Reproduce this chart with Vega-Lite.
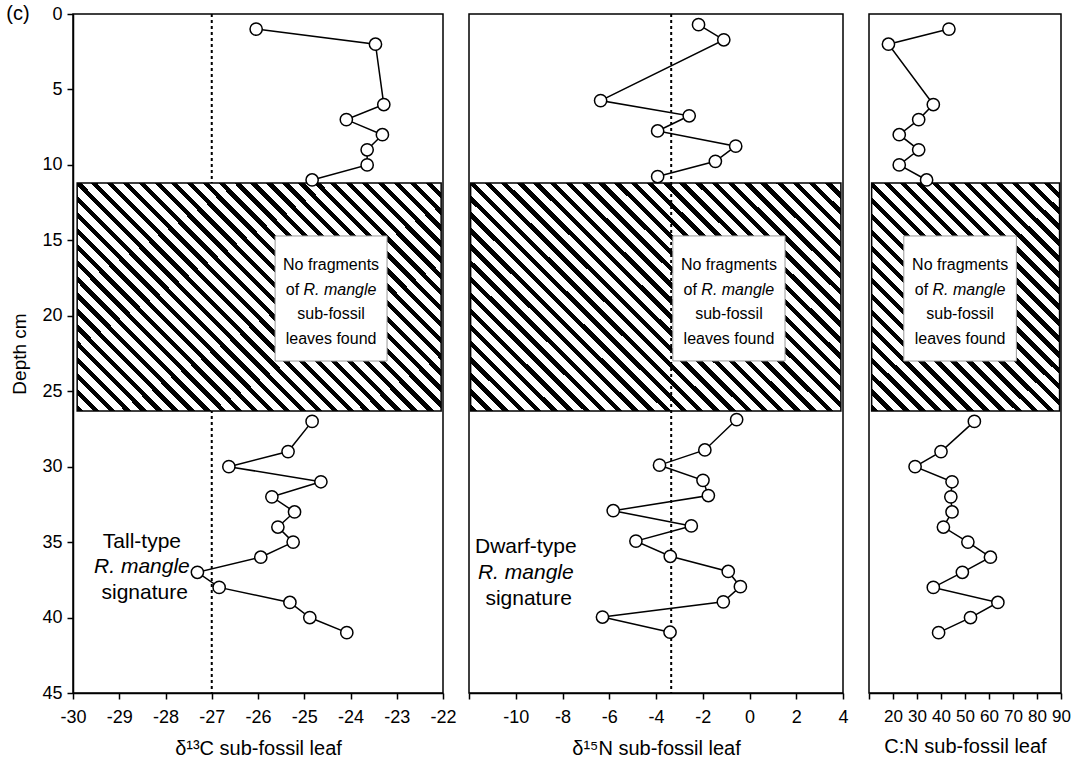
{
  "$schema": "https://vega.github.io/schema/vega-lite/v6.json",
  "padding": {"left": 5, "top": 3, "right": 5, "bottom": 5},
  "background": "white",
  "spacing": 26,
  "bounds": "flush",
  "config": {
    "font": "Liberation Sans",
    "view": {"stroke": "black", "strokeWidth": 1.5},
    "text": {"font": "Liberation Sans", "color": "black", "baseline": "middle", "align": "center"},
    "axis": {"grid": false, "domainColor": "black", "domainWidth": 1.5, "tickColor": "black", "tickWidth": 1.5, "tickSize": 6, "labelFont": "Liberation Sans", "labelFontSize": 18, "labelColor": "black", "labelPadding": 5, "labelOverlap": false, "titleFont": "Liberation Sans", "titleFontSize": 20, "titleFontWeight": "normal", "titleColor": "black", "titlePadding": 10},
    "axisX": {"labelPadding": 9, "labelFlush": false}
  },
  "datasets": {
    "c13": [
      {"depth": 1, "v": -26.04, "seg": "a"}, {"depth": 2, "v": -23.46, "seg": "a"}, {"depth": 6, "v": -23.28, "seg": "a"}, {"depth": 7, "v": -24.09, "seg": "a"}, {"depth": 8, "v": -23.31, "seg": "a"}, {"depth": 9, "v": -23.64, "seg": "a"}, {"depth": 10, "v": -23.64, "seg": "a"}, {"depth": 11, "v": -24.83, "seg": "a"},
      {"depth": 27, "v": -24.83, "seg": "b"}, {"depth": 29, "v": -25.35, "seg": "b"}, {"depth": 30, "v": -26.63, "seg": "b"}, {"depth": 31, "v": -24.64, "seg": "b"}, {"depth": 32, "v": -25.70, "seg": "b"}, {"depth": 33, "v": -25.21, "seg": "b"}, {"depth": 34, "v": -25.57, "seg": "b"}, {"depth": 35, "v": -25.24, "seg": "b"}, {"depth": 36, "v": -25.94, "seg": "b"}, {"depth": 37, "v": -27.31, "seg": "b"}, {"depth": 38, "v": -26.84, "seg": "b"}, {"depth": 39, "v": -25.31, "seg": "b"}, {"depth": 40, "v": -24.88, "seg": "b"}, {"depth": 41, "v": -24.08, "seg": "b"}
    ],
    "n15": [
      {"depth": 1, "v": -2.18, "seg": "a"}, {"depth": 2, "v": -1.10, "seg": "a"}, {"depth": 6, "v": -6.37, "seg": "a"}, {"depth": 7, "v": -2.58, "seg": "a"}, {"depth": 8, "v": -3.93, "seg": "a"}, {"depth": 9, "v": -0.59, "seg": "a"}, {"depth": 10, "v": -1.46, "seg": "a"}, {"depth": 11, "v": -3.93, "seg": "a"},
      {"depth": 27, "v": -0.55, "seg": "b"}, {"depth": 29, "v": -1.91, "seg": "b"}, {"depth": 30, "v": -3.85, "seg": "b"}, {"depth": 31, "v": -1.99, "seg": "b"}, {"depth": 32, "v": -1.76, "seg": "b"}, {"depth": 33, "v": -5.83, "seg": "b"}, {"depth": 34, "v": -2.49, "seg": "b"}, {"depth": 35, "v": -4.86, "seg": "b"}, {"depth": 36, "v": -3.39, "seg": "b"}, {"depth": 37, "v": -0.91, "seg": "b"}, {"depth": 38, "v": -0.39, "seg": "b"}, {"depth": 39, "v": -1.12, "seg": "b"}, {"depth": 40, "v": -6.29, "seg": "b"}, {"depth": 41, "v": -3.40, "seg": "b"}
    ],
    "cn": [
      {"depth": 1, "v": 43.3, "seg": "a"}, {"depth": 2, "v": 18.1, "seg": "a"}, {"depth": 6, "v": 36.8, "seg": "a"}, {"depth": 7, "v": 30.7, "seg": "a"}, {"depth": 8, "v": 22.6, "seg": "a"}, {"depth": 9, "v": 30.7, "seg": "a"}, {"depth": 10, "v": 22.6, "seg": "a"}, {"depth": 11, "v": 34.0, "seg": "a"},
      {"depth": 27, "v": 53.9, "seg": "b"}, {"depth": 29, "v": 40.0, "seg": "b"}, {"depth": 30, "v": 29.2, "seg": "b"}, {"depth": 31, "v": 44.6, "seg": "b"}, {"depth": 32, "v": 44.1, "seg": "b"}, {"depth": 33, "v": 44.6, "seg": "b"}, {"depth": 34, "v": 41.0, "seg": "b"}, {"depth": 35, "v": 51.2, "seg": "b"}, {"depth": 36, "v": 60.6, "seg": "b"}, {"depth": 37, "v": 48.9, "seg": "b"}, {"depth": 38, "v": 36.8, "seg": "b"}, {"depth": 39, "v": 63.7, "seg": "b"}, {"depth": 40, "v": 52.3, "seg": "b"}, {"depth": 41, "v": 39.0, "seg": "b"}
    ]
  },
  "hconcat": [
    {
      "width": 370,
      "height": 679,
      "data": {"values": [{}]},
      "layer": [
        {
          "mark": {"type": "rule", "stroke": "black", "strokeWidth": 2, "strokeDash": [3, 3]},
          "encoding": {
            "x": {"datum": -27, "type": "quantitative", "scale": {"domain": [-30, -22], "nice": false}, "axis": {"values": [-30, -29, -28, -27, -26, -25, -24, -23, -22], "tickCount": 20, "labelExpr": "'' + datum.value", "title": "δ¹³C sub-fossil leaf", "titlePadding": 12}},
            "y": {"datum": 0, "type": "quantitative", "scale": {"domain": [0, 45], "nice": false, "reverse": true}, "axis": {"values": [0, 5, 10, 15, 20, 25, 30, 35, 40, 45], "tickCount": 20, "title": "Depth cm", "titleFontSize": 19, "titlePadding": 12}},
            "y2": {"datum": 45}
          }
        },
        {
          "mark": {"type": "rect", "stroke": "black", "strokeWidth": 1.5, "fill": {"gradient": "linear", "x1": 0, "y1": 1, "x2": 1.1703, "y2": 0.2749, "stops": [
            {"offset": 0, "color": "#000"}, {"offset": 0.01081, "color": "#000"}, {"offset": 0.01081, "color": "#fff"}, {"offset": 0.02703, "color": "#fff"},
            {"offset": 0.02703, "color": "#000"}, {"offset": 0.03784, "color": "#000"}, {"offset": 0.03784, "color": "#fff"}, {"offset": 0.05405, "color": "#fff"},
            {"offset": 0.05405, "color": "#000"}, {"offset": 0.06486, "color": "#000"}, {"offset": 0.06486, "color": "#fff"}, {"offset": 0.08108, "color": "#fff"},
            {"offset": 0.08108, "color": "#000"}, {"offset": 0.09189, "color": "#000"}, {"offset": 0.09189, "color": "#fff"}, {"offset": 0.10811, "color": "#fff"},
            {"offset": 0.10811, "color": "#000"}, {"offset": 0.11892, "color": "#000"}, {"offset": 0.11892, "color": "#fff"}, {"offset": 0.13514, "color": "#fff"},
            {"offset": 0.13514, "color": "#000"}, {"offset": 0.14595, "color": "#000"}, {"offset": 0.14595, "color": "#fff"}, {"offset": 0.16216, "color": "#fff"},
            {"offset": 0.16216, "color": "#000"}, {"offset": 0.17297, "color": "#000"}, {"offset": 0.17297, "color": "#fff"}, {"offset": 0.18919, "color": "#fff"},
            {"offset": 0.18919, "color": "#000"}, {"offset": 0.2, "color": "#000"}, {"offset": 0.2, "color": "#fff"}, {"offset": 0.21622, "color": "#fff"},
            {"offset": 0.21622, "color": "#000"}, {"offset": 0.22703, "color": "#000"}, {"offset": 0.22703, "color": "#fff"}, {"offset": 0.24324, "color": "#fff"},
            {"offset": 0.24324, "color": "#000"}, {"offset": 0.25405, "color": "#000"}, {"offset": 0.25405, "color": "#fff"}, {"offset": 0.27027, "color": "#fff"},
            {"offset": 0.27027, "color": "#000"}, {"offset": 0.28108, "color": "#000"}, {"offset": 0.28108, "color": "#fff"}, {"offset": 0.2973, "color": "#fff"},
            {"offset": 0.2973, "color": "#000"}, {"offset": 0.30811, "color": "#000"}, {"offset": 0.30811, "color": "#fff"}, {"offset": 0.32432, "color": "#fff"},
            {"offset": 0.32432, "color": "#000"}, {"offset": 0.33514, "color": "#000"}, {"offset": 0.33514, "color": "#fff"}, {"offset": 0.35135, "color": "#fff"},
            {"offset": 0.35135, "color": "#000"}, {"offset": 0.36216, "color": "#000"}, {"offset": 0.36216, "color": "#fff"}, {"offset": 0.37838, "color": "#fff"},
            {"offset": 0.37838, "color": "#000"}, {"offset": 0.38919, "color": "#000"}, {"offset": 0.38919, "color": "#fff"}, {"offset": 0.40541, "color": "#fff"},
            {"offset": 0.40541, "color": "#000"}, {"offset": 0.41622, "color": "#000"}, {"offset": 0.41622, "color": "#fff"}, {"offset": 0.43243, "color": "#fff"},
            {"offset": 0.43243, "color": "#000"}, {"offset": 0.44324, "color": "#000"}, {"offset": 0.44324, "color": "#fff"}, {"offset": 0.45946, "color": "#fff"},
            {"offset": 0.45946, "color": "#000"}, {"offset": 0.47027, "color": "#000"}, {"offset": 0.47027, "color": "#fff"}, {"offset": 0.48649, "color": "#fff"},
            {"offset": 0.48649, "color": "#000"}, {"offset": 0.4973, "color": "#000"}, {"offset": 0.4973, "color": "#fff"}, {"offset": 0.51351, "color": "#fff"},
            {"offset": 0.51351, "color": "#000"}, {"offset": 0.52432, "color": "#000"}, {"offset": 0.52432, "color": "#fff"}, {"offset": 0.54054, "color": "#fff"},
            {"offset": 0.54054, "color": "#000"}, {"offset": 0.55135, "color": "#000"}, {"offset": 0.55135, "color": "#fff"}, {"offset": 0.56757, "color": "#fff"},
            {"offset": 0.56757, "color": "#000"}, {"offset": 0.57838, "color": "#000"}, {"offset": 0.57838, "color": "#fff"}, {"offset": 0.59459, "color": "#fff"},
            {"offset": 0.59459, "color": "#000"}, {"offset": 0.60541, "color": "#000"}, {"offset": 0.60541, "color": "#fff"}, {"offset": 0.62162, "color": "#fff"},
            {"offset": 0.62162, "color": "#000"}, {"offset": 0.63243, "color": "#000"}, {"offset": 0.63243, "color": "#fff"}, {"offset": 0.64865, "color": "#fff"},
            {"offset": 0.64865, "color": "#000"}, {"offset": 0.65946, "color": "#000"}, {"offset": 0.65946, "color": "#fff"}, {"offset": 0.67568, "color": "#fff"},
            {"offset": 0.67568, "color": "#000"}, {"offset": 0.68649, "color": "#000"}, {"offset": 0.68649, "color": "#fff"}, {"offset": 0.7027, "color": "#fff"},
            {"offset": 0.7027, "color": "#000"}, {"offset": 0.71351, "color": "#000"}, {"offset": 0.71351, "color": "#fff"}, {"offset": 0.72973, "color": "#fff"},
            {"offset": 0.72973, "color": "#000"}, {"offset": 0.74054, "color": "#000"}, {"offset": 0.74054, "color": "#fff"}, {"offset": 0.75676, "color": "#fff"},
            {"offset": 0.75676, "color": "#000"}, {"offset": 0.76757, "color": "#000"}, {"offset": 0.76757, "color": "#fff"}, {"offset": 0.78378, "color": "#fff"},
            {"offset": 0.78378, "color": "#000"}, {"offset": 0.79459, "color": "#000"}, {"offset": 0.79459, "color": "#fff"}, {"offset": 0.81081, "color": "#fff"},
            {"offset": 0.81081, "color": "#000"}, {"offset": 0.82162, "color": "#000"}, {"offset": 0.82162, "color": "#fff"}, {"offset": 0.83784, "color": "#fff"},
            {"offset": 0.83784, "color": "#000"}, {"offset": 0.84865, "color": "#000"}, {"offset": 0.84865, "color": "#fff"}, {"offset": 0.86486, "color": "#fff"},
            {"offset": 0.86486, "color": "#000"}, {"offset": 0.87568, "color": "#000"}, {"offset": 0.87568, "color": "#fff"}, {"offset": 0.89189, "color": "#fff"},
            {"offset": 0.89189, "color": "#000"}, {"offset": 0.9027, "color": "#000"}, {"offset": 0.9027, "color": "#fff"}, {"offset": 0.91892, "color": "#fff"},
            {"offset": 0.91892, "color": "#000"}, {"offset": 0.92973, "color": "#000"}, {"offset": 0.92973, "color": "#fff"}, {"offset": 0.94595, "color": "#fff"},
            {"offset": 0.94595, "color": "#000"}, {"offset": 0.95676, "color": "#000"}, {"offset": 0.95676, "color": "#fff"}, {"offset": 0.97297, "color": "#fff"},
            {"offset": 0.97297, "color": "#000"}, {"offset": 0.98378, "color": "#000"}, {"offset": 0.98378, "color": "#fff"}, {"offset": 1, "color": "#fff"}
          ]}},
          "encoding": {
            "x": {"datum": -29.91, "type": "quantitative"},
            "x2": {"datum": -22.04},
            "y": {"datum": 11.2, "type": "quantitative"},
            "y2": {"datum": 26.31}
          }
        },
        {
          "mark": {"type": "rect", "fill": "white", "stroke": "#999999", "strokeWidth": 1},
          "encoding": {
            "x": {"datum": -25.63, "type": "quantitative"},
            "x2": {"datum": -23.21},
            "y": {"datum": 14.71, "type": "quantitative"},
            "y2": {"datum": 23.0}
          }
        },
        {"mark": {"type": "text", "text": "No fragments", "fontSize": 16}, "encoding": {"x": {"datum": -24.42, "type": "quantitative"}, "y": {"datum": 16.63, "type": "quantitative"}}},
        {"mark": {"type": "text", "text": "of", "fontSize": 16, "align": "right", "dx": -32}, "encoding": {"x": {"datum": -24.42, "type": "quantitative"}, "y": {"datum": 18.29, "type": "quantitative"}}},
        {"mark": {"type": "text", "text": "R. mangle", "fontSize": 16, "fontStyle": "italic", "align": "left", "dx": -27.6}, "encoding": {"x": {"datum": -24.42, "type": "quantitative"}, "y": {"datum": 18.29, "type": "quantitative"}}},
        {"mark": {"type": "text", "text": "sub-fossil", "fontSize": 16}, "encoding": {"x": {"datum": -24.42, "type": "quantitative"}, "y": {"datum": 19.88, "type": "quantitative"}}},
        {"mark": {"type": "text", "text": "leaves found", "fontSize": 16}, "encoding": {"x": {"datum": -24.42, "type": "quantitative"}, "y": {"datum": 21.54, "type": "quantitative"}}},
        {"mark": {"type": "text", "text": "Tall-type", "fontSize": 21}, "encoding": {"x": {"datum": -28.51, "type": "quantitative"}, "y": {"datum": 34.97, "type": "quantitative"}}},
        {"mark": {"type": "text", "text": "R. mangle", "fontSize": 21, "fontStyle": "italic"}, "encoding": {"x": {"datum": -28.51, "type": "quantitative"}, "y": {"datum": 36.63, "type": "quantitative"}}},
        {"mark": {"type": "text", "text": "signature", "fontSize": 21}, "encoding": {"x": {"datum": -28.45, "type": "quantitative"}, "y": {"datum": 38.35, "type": "quantitative"}}},
        {"mark": {"type": "text", "text": "(c)", "fontSize": 20, "dx": -55}, "encoding": {"x": {"datum": -30, "type": "quantitative"}, "y": {"datum": 0, "type": "quantitative"}}},
        {
          "data": {"name": "c13"},
          "mark": {"type": "line", "stroke": "black", "strokeWidth": 1.5},
          "encoding": {
            "x": {"field": "v", "type": "quantitative"},
            "y": {"field": "depth", "type": "quantitative"},
            "detail": {"field": "seg"},
            "order": {"field": "depth", "type": "quantitative"}
          }
        },
        {
          "data": {"name": "c13"},
          "mark": {"type": "point", "shape": "circle", "filled": true, "fill": "white", "stroke": "black", "strokeWidth": 1.5, "size": 150, "opacity": 1},
          "encoding": {
            "x": {"field": "v", "type": "quantitative"},
            "y": {"field": "depth", "type": "quantitative"}
          }
        }
      ]
    },
    {
      "width": 374,
      "height": 679,
      "data": {"values": [{}]},
      "layer": [
        {
          "mark": {"type": "rect", "stroke": "black", "strokeWidth": 1.5, "fill": {"gradient": "linear", "x1": 0, "y1": 1, "x2": 1.1703, "y2": 0.2749, "stops": [
            {"offset": 0, "color": "#000"}, {"offset": 0.01081, "color": "#000"}, {"offset": 0.01081, "color": "#fff"}, {"offset": 0.02703, "color": "#fff"},
            {"offset": 0.02703, "color": "#000"}, {"offset": 0.03784, "color": "#000"}, {"offset": 0.03784, "color": "#fff"}, {"offset": 0.05405, "color": "#fff"},
            {"offset": 0.05405, "color": "#000"}, {"offset": 0.06486, "color": "#000"}, {"offset": 0.06486, "color": "#fff"}, {"offset": 0.08108, "color": "#fff"},
            {"offset": 0.08108, "color": "#000"}, {"offset": 0.09189, "color": "#000"}, {"offset": 0.09189, "color": "#fff"}, {"offset": 0.10811, "color": "#fff"},
            {"offset": 0.10811, "color": "#000"}, {"offset": 0.11892, "color": "#000"}, {"offset": 0.11892, "color": "#fff"}, {"offset": 0.13514, "color": "#fff"},
            {"offset": 0.13514, "color": "#000"}, {"offset": 0.14595, "color": "#000"}, {"offset": 0.14595, "color": "#fff"}, {"offset": 0.16216, "color": "#fff"},
            {"offset": 0.16216, "color": "#000"}, {"offset": 0.17297, "color": "#000"}, {"offset": 0.17297, "color": "#fff"}, {"offset": 0.18919, "color": "#fff"},
            {"offset": 0.18919, "color": "#000"}, {"offset": 0.2, "color": "#000"}, {"offset": 0.2, "color": "#fff"}, {"offset": 0.21622, "color": "#fff"},
            {"offset": 0.21622, "color": "#000"}, {"offset": 0.22703, "color": "#000"}, {"offset": 0.22703, "color": "#fff"}, {"offset": 0.24324, "color": "#fff"},
            {"offset": 0.24324, "color": "#000"}, {"offset": 0.25405, "color": "#000"}, {"offset": 0.25405, "color": "#fff"}, {"offset": 0.27027, "color": "#fff"},
            {"offset": 0.27027, "color": "#000"}, {"offset": 0.28108, "color": "#000"}, {"offset": 0.28108, "color": "#fff"}, {"offset": 0.2973, "color": "#fff"},
            {"offset": 0.2973, "color": "#000"}, {"offset": 0.30811, "color": "#000"}, {"offset": 0.30811, "color": "#fff"}, {"offset": 0.32432, "color": "#fff"},
            {"offset": 0.32432, "color": "#000"}, {"offset": 0.33514, "color": "#000"}, {"offset": 0.33514, "color": "#fff"}, {"offset": 0.35135, "color": "#fff"},
            {"offset": 0.35135, "color": "#000"}, {"offset": 0.36216, "color": "#000"}, {"offset": 0.36216, "color": "#fff"}, {"offset": 0.37838, "color": "#fff"},
            {"offset": 0.37838, "color": "#000"}, {"offset": 0.38919, "color": "#000"}, {"offset": 0.38919, "color": "#fff"}, {"offset": 0.40541, "color": "#fff"},
            {"offset": 0.40541, "color": "#000"}, {"offset": 0.41622, "color": "#000"}, {"offset": 0.41622, "color": "#fff"}, {"offset": 0.43243, "color": "#fff"},
            {"offset": 0.43243, "color": "#000"}, {"offset": 0.44324, "color": "#000"}, {"offset": 0.44324, "color": "#fff"}, {"offset": 0.45946, "color": "#fff"},
            {"offset": 0.45946, "color": "#000"}, {"offset": 0.47027, "color": "#000"}, {"offset": 0.47027, "color": "#fff"}, {"offset": 0.48649, "color": "#fff"},
            {"offset": 0.48649, "color": "#000"}, {"offset": 0.4973, "color": "#000"}, {"offset": 0.4973, "color": "#fff"}, {"offset": 0.51351, "color": "#fff"},
            {"offset": 0.51351, "color": "#000"}, {"offset": 0.52432, "color": "#000"}, {"offset": 0.52432, "color": "#fff"}, {"offset": 0.54054, "color": "#fff"},
            {"offset": 0.54054, "color": "#000"}, {"offset": 0.55135, "color": "#000"}, {"offset": 0.55135, "color": "#fff"}, {"offset": 0.56757, "color": "#fff"},
            {"offset": 0.56757, "color": "#000"}, {"offset": 0.57838, "color": "#000"}, {"offset": 0.57838, "color": "#fff"}, {"offset": 0.59459, "color": "#fff"},
            {"offset": 0.59459, "color": "#000"}, {"offset": 0.60541, "color": "#000"}, {"offset": 0.60541, "color": "#fff"}, {"offset": 0.62162, "color": "#fff"},
            {"offset": 0.62162, "color": "#000"}, {"offset": 0.63243, "color": "#000"}, {"offset": 0.63243, "color": "#fff"}, {"offset": 0.64865, "color": "#fff"},
            {"offset": 0.64865, "color": "#000"}, {"offset": 0.65946, "color": "#000"}, {"offset": 0.65946, "color": "#fff"}, {"offset": 0.67568, "color": "#fff"},
            {"offset": 0.67568, "color": "#000"}, {"offset": 0.68649, "color": "#000"}, {"offset": 0.68649, "color": "#fff"}, {"offset": 0.7027, "color": "#fff"},
            {"offset": 0.7027, "color": "#000"}, {"offset": 0.71351, "color": "#000"}, {"offset": 0.71351, "color": "#fff"}, {"offset": 0.72973, "color": "#fff"},
            {"offset": 0.72973, "color": "#000"}, {"offset": 0.74054, "color": "#000"}, {"offset": 0.74054, "color": "#fff"}, {"offset": 0.75676, "color": "#fff"},
            {"offset": 0.75676, "color": "#000"}, {"offset": 0.76757, "color": "#000"}, {"offset": 0.76757, "color": "#fff"}, {"offset": 0.78378, "color": "#fff"},
            {"offset": 0.78378, "color": "#000"}, {"offset": 0.79459, "color": "#000"}, {"offset": 0.79459, "color": "#fff"}, {"offset": 0.81081, "color": "#fff"},
            {"offset": 0.81081, "color": "#000"}, {"offset": 0.82162, "color": "#000"}, {"offset": 0.82162, "color": "#fff"}, {"offset": 0.83784, "color": "#fff"},
            {"offset": 0.83784, "color": "#000"}, {"offset": 0.84865, "color": "#000"}, {"offset": 0.84865, "color": "#fff"}, {"offset": 0.86486, "color": "#fff"},
            {"offset": 0.86486, "color": "#000"}, {"offset": 0.87568, "color": "#000"}, {"offset": 0.87568, "color": "#fff"}, {"offset": 0.89189, "color": "#fff"},
            {"offset": 0.89189, "color": "#000"}, {"offset": 0.9027, "color": "#000"}, {"offset": 0.9027, "color": "#fff"}, {"offset": 0.91892, "color": "#fff"},
            {"offset": 0.91892, "color": "#000"}, {"offset": 0.92973, "color": "#000"}, {"offset": 0.92973, "color": "#fff"}, {"offset": 0.94595, "color": "#fff"},
            {"offset": 0.94595, "color": "#000"}, {"offset": 0.95676, "color": "#000"}, {"offset": 0.95676, "color": "#fff"}, {"offset": 0.97297, "color": "#fff"},
            {"offset": 0.97297, "color": "#000"}, {"offset": 0.98378, "color": "#000"}, {"offset": 0.98378, "color": "#fff"}, {"offset": 1, "color": "#fff"}
          ]}},
          "encoding": {
            "x": {"datum": -11.93, "type": "quantitative", "scale": {"domain": [-12, 4], "nice": false}, "axis": {"values": [-12, -10, -8, -6, -4, -2, 0, 2, 4], "tickCount": 20, "labelExpr": "datum.value == -12 ? '' : '' + datum.value", "title": "δ¹⁵N sub-fossil leaf", "titlePadding": 12}},
            "x2": {"datum": 3.91},
            "y": {"datum": 11.43, "type": "quantitative", "scale": {"domain": [0.3, 45], "nice": false, "reverse": true}, "axis": null},
            "y2": {"datum": 26.44}
          }
        },
        {
          "mark": {"type": "rule", "stroke": "black", "strokeWidth": 2, "strokeDash": [3, 3]},
          "encoding": {
            "x": {"datum": -3.35, "type": "quantitative"},
            "y": {"datum": 0.3, "type": "quantitative"},
            "y2": {"datum": 45}
          }
        },
        {
          "mark": {"type": "rect", "fill": "white", "stroke": "#999999", "strokeWidth": 1},
          "encoding": {
            "x": {"datum": -3.28, "type": "quantitative"},
            "x2": {"datum": 1.52},
            "y": {"datum": 14.91, "type": "quantitative"},
            "y2": {"datum": 23.14}
          }
        },
        {"mark": {"type": "text", "text": "No fragments", "fontSize": 16}, "encoding": {"x": {"datum": -0.88, "type": "quantitative"}, "y": {"datum": 16.82, "type": "quantitative"}}},
        {"mark": {"type": "text", "text": "of", "fontSize": 16, "align": "right", "dx": -32}, "encoding": {"x": {"datum": -0.88, "type": "quantitative"}, "y": {"datum": 18.47, "type": "quantitative"}}},
        {"mark": {"type": "text", "text": "R. mangle", "fontSize": 16, "fontStyle": "italic", "align": "left", "dx": -27.6}, "encoding": {"x": {"datum": -0.88, "type": "quantitative"}, "y": {"datum": 18.47, "type": "quantitative"}}},
        {"mark": {"type": "text", "text": "sub-fossil", "fontSize": 16}, "encoding": {"x": {"datum": -0.88, "type": "quantitative"}, "y": {"datum": 20.05, "type": "quantitative"}}},
        {"mark": {"type": "text", "text": "leaves found", "fontSize": 16}, "encoding": {"x": {"datum": -0.88, "type": "quantitative"}, "y": {"datum": 21.7, "type": "quantitative"}}},
        {"mark": {"type": "text", "text": "Dwarf-type", "fontSize": 21}, "encoding": {"x": {"datum": -9.57, "type": "quantitative"}, "y": {"datum": 35.37, "type": "quantitative"}}},
        {"mark": {"type": "text", "text": "R. mangle", "fontSize": 21, "fontStyle": "italic"}, "encoding": {"x": {"datum": -9.57, "type": "quantitative"}, "y": {"datum": 37.11, "type": "quantitative"}}},
        {"mark": {"type": "text", "text": "signature", "fontSize": 21}, "encoding": {"x": {"datum": -9.45, "type": "quantitative"}, "y": {"datum": 38.82, "type": "quantitative"}}},
        {
          "data": {"name": "n15"},
          "mark": {"type": "line", "stroke": "black", "strokeWidth": 1.5},
          "encoding": {
            "x": {"field": "v", "type": "quantitative"},
            "y": {"field": "depth", "type": "quantitative"},
            "detail": {"field": "seg"},
            "order": {"field": "depth", "type": "quantitative"}
          }
        },
        {
          "data": {"name": "n15"},
          "mark": {"type": "point", "shape": "circle", "filled": true, "fill": "white", "stroke": "black", "strokeWidth": 1.5, "size": 150, "opacity": 1},
          "encoding": {
            "x": {"field": "v", "type": "quantitative"},
            "y": {"field": "depth", "type": "quantitative"}
          }
        }
      ]
    },
    {
      "width": 192,
      "height": 679,
      "data": {"values": [{}]},
      "layer": [
        {
          "mark": {"type": "rect", "stroke": "black", "strokeWidth": 1.5, "fill": {"gradient": "linear", "x1": 0, "y1": 1, "x2": 0.8925, "y2": -0.0882, "stops": [
            {"offset": 0, "color": "#000"}, {"offset": 0.01538, "color": "#000"}, {"offset": 0.01538, "color": "#fff"}, {"offset": 0.03846, "color": "#fff"},
            {"offset": 0.03846, "color": "#000"}, {"offset": 0.05385, "color": "#000"}, {"offset": 0.05385, "color": "#fff"}, {"offset": 0.07692, "color": "#fff"},
            {"offset": 0.07692, "color": "#000"}, {"offset": 0.09231, "color": "#000"}, {"offset": 0.09231, "color": "#fff"}, {"offset": 0.11538, "color": "#fff"},
            {"offset": 0.11538, "color": "#000"}, {"offset": 0.13077, "color": "#000"}, {"offset": 0.13077, "color": "#fff"}, {"offset": 0.15385, "color": "#fff"},
            {"offset": 0.15385, "color": "#000"}, {"offset": 0.16923, "color": "#000"}, {"offset": 0.16923, "color": "#fff"}, {"offset": 0.19231, "color": "#fff"},
            {"offset": 0.19231, "color": "#000"}, {"offset": 0.20769, "color": "#000"}, {"offset": 0.20769, "color": "#fff"}, {"offset": 0.23077, "color": "#fff"},
            {"offset": 0.23077, "color": "#000"}, {"offset": 0.24615, "color": "#000"}, {"offset": 0.24615, "color": "#fff"}, {"offset": 0.26923, "color": "#fff"},
            {"offset": 0.26923, "color": "#000"}, {"offset": 0.28462, "color": "#000"}, {"offset": 0.28462, "color": "#fff"}, {"offset": 0.30769, "color": "#fff"},
            {"offset": 0.30769, "color": "#000"}, {"offset": 0.32308, "color": "#000"}, {"offset": 0.32308, "color": "#fff"}, {"offset": 0.34615, "color": "#fff"},
            {"offset": 0.34615, "color": "#000"}, {"offset": 0.36154, "color": "#000"}, {"offset": 0.36154, "color": "#fff"}, {"offset": 0.38462, "color": "#fff"},
            {"offset": 0.38462, "color": "#000"}, {"offset": 0.4, "color": "#000"}, {"offset": 0.4, "color": "#fff"}, {"offset": 0.42308, "color": "#fff"},
            {"offset": 0.42308, "color": "#000"}, {"offset": 0.43846, "color": "#000"}, {"offset": 0.43846, "color": "#fff"}, {"offset": 0.46154, "color": "#fff"},
            {"offset": 0.46154, "color": "#000"}, {"offset": 0.47692, "color": "#000"}, {"offset": 0.47692, "color": "#fff"}, {"offset": 0.5, "color": "#fff"},
            {"offset": 0.5, "color": "#000"}, {"offset": 0.51538, "color": "#000"}, {"offset": 0.51538, "color": "#fff"}, {"offset": 0.53846, "color": "#fff"},
            {"offset": 0.53846, "color": "#000"}, {"offset": 0.55385, "color": "#000"}, {"offset": 0.55385, "color": "#fff"}, {"offset": 0.57692, "color": "#fff"},
            {"offset": 0.57692, "color": "#000"}, {"offset": 0.59231, "color": "#000"}, {"offset": 0.59231, "color": "#fff"}, {"offset": 0.61538, "color": "#fff"},
            {"offset": 0.61538, "color": "#000"}, {"offset": 0.63077, "color": "#000"}, {"offset": 0.63077, "color": "#fff"}, {"offset": 0.65385, "color": "#fff"},
            {"offset": 0.65385, "color": "#000"}, {"offset": 0.66923, "color": "#000"}, {"offset": 0.66923, "color": "#fff"}, {"offset": 0.69231, "color": "#fff"},
            {"offset": 0.69231, "color": "#000"}, {"offset": 0.70769, "color": "#000"}, {"offset": 0.70769, "color": "#fff"}, {"offset": 0.73077, "color": "#fff"},
            {"offset": 0.73077, "color": "#000"}, {"offset": 0.74615, "color": "#000"}, {"offset": 0.74615, "color": "#fff"}, {"offset": 0.76923, "color": "#fff"},
            {"offset": 0.76923, "color": "#000"}, {"offset": 0.78462, "color": "#000"}, {"offset": 0.78462, "color": "#fff"}, {"offset": 0.80769, "color": "#fff"},
            {"offset": 0.80769, "color": "#000"}, {"offset": 0.82308, "color": "#000"}, {"offset": 0.82308, "color": "#fff"}, {"offset": 0.84615, "color": "#fff"},
            {"offset": 0.84615, "color": "#000"}, {"offset": 0.86154, "color": "#000"}, {"offset": 0.86154, "color": "#fff"}, {"offset": 0.88462, "color": "#fff"},
            {"offset": 0.88462, "color": "#000"}, {"offset": 0.9, "color": "#000"}, {"offset": 0.9, "color": "#fff"}, {"offset": 0.92308, "color": "#fff"},
            {"offset": 0.92308, "color": "#000"}, {"offset": 0.93846, "color": "#000"}, {"offset": 0.93846, "color": "#fff"}, {"offset": 0.96154, "color": "#fff"},
            {"offset": 0.96154, "color": "#000"}, {"offset": 0.97692, "color": "#000"}, {"offset": 0.97692, "color": "#fff"}, {"offset": 1, "color": "#fff"}
          ]}},
          "encoding": {
            "x": {"datum": 11.1, "type": "quantitative", "scale": {"domain": [10, 90], "nice": false}, "axis": {"values": [10, 20, 30, 40, 50, 60, 70, 80, 90], "tickCount": 20, "labelExpr": "datum.value == 10 ? '' : '' + datum.value", "labelFontSize": 17, "labelOverlap": false, "labelBound": false, "labelFlush": false, "title": "C:N sub-fossil leaf", "titlePadding": 12}},
            "x2": {"datum": 89.4},
            "y": {"datum": 11.2, "type": "quantitative", "scale": {"domain": [0, 45], "nice": false, "reverse": true}, "axis": null},
            "y2": {"datum": 26.31}
          }
        },
        {
          "mark": {"type": "rect", "fill": "white", "stroke": "#999999", "strokeWidth": 1},
          "encoding": {
            "x": {"datum": 24.5, "type": "quantitative"},
            "x2": {"datum": 71.4},
            "y": {"datum": 14.71, "type": "quantitative"},
            "y2": {"datum": 23.0}
          }
        },
        {"mark": {"type": "text", "text": "No fragments", "fontSize": 16}, "encoding": {"x": {"datum": 47.96, "type": "quantitative"}, "y": {"datum": 16.63, "type": "quantitative"}}},
        {"mark": {"type": "text", "text": "of", "fontSize": 16, "align": "right", "dx": -32}, "encoding": {"x": {"datum": 47.96, "type": "quantitative"}, "y": {"datum": 18.29, "type": "quantitative"}}},
        {"mark": {"type": "text", "text": "R. mangle", "fontSize": 16, "fontStyle": "italic", "align": "left", "dx": -27.6}, "encoding": {"x": {"datum": 47.96, "type": "quantitative"}, "y": {"datum": 18.29, "type": "quantitative"}}},
        {"mark": {"type": "text", "text": "sub-fossil", "fontSize": 16}, "encoding": {"x": {"datum": 47.96, "type": "quantitative"}, "y": {"datum": 19.88, "type": "quantitative"}}},
        {"mark": {"type": "text", "text": "leaves found", "fontSize": 16}, "encoding": {"x": {"datum": 47.96, "type": "quantitative"}, "y": {"datum": 21.54, "type": "quantitative"}}},
        {
          "data": {"name": "cn"},
          "mark": {"type": "line", "stroke": "black", "strokeWidth": 1.5},
          "encoding": {
            "x": {"field": "v", "type": "quantitative"},
            "y": {"field": "depth", "type": "quantitative"},
            "detail": {"field": "seg"},
            "order": {"field": "depth", "type": "quantitative"}
          }
        },
        {
          "data": {"name": "cn"},
          "mark": {"type": "point", "shape": "circle", "filled": true, "fill": "white", "stroke": "black", "strokeWidth": 1.5, "size": 150, "opacity": 1},
          "encoding": {
            "x": {"field": "v", "type": "quantitative"},
            "y": {"field": "depth", "type": "quantitative"}
          }
        }
      ]
    }
  ]
}
